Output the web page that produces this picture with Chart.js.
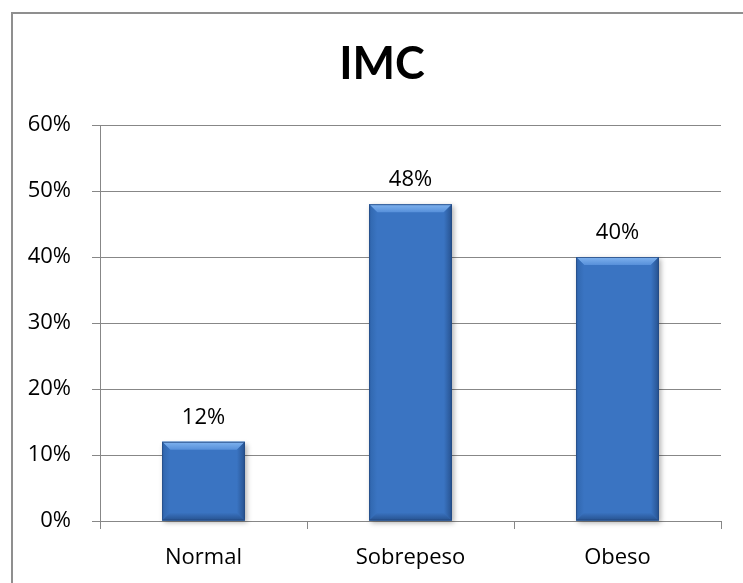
<!DOCTYPE html>
<html>
<head>
<meta charset="utf-8">
<script src="https://cdn.jsdelivr.net/npm/chart.js@4.4.1/dist/chart.umd.min.js"></script>
<style>
  html, body { margin: 0; padding: 0; background: #fff; overflow: hidden; }
  #frame { position: absolute; left: 11px; top: 12px; width: 780px; height: 620px;
           border-left: 2px solid #8f8f8f; border-top: 2px solid #8f8f8f; }
  #wrap { position: absolute; left: 0; top: 0; width: 743px; height: 583px; }
</style>
</head>
<body>
<div id="frame"></div>
<div id="wrap"><canvas id="imcChart"></canvas></div>
<script>
const categories = ['Normal', 'Sobrepeso', 'Obeso'];
const imcPct = [12, 48, 40];
const yMax = 60;
const yStep = 10;
const chartTitle = 'IMC';

const FONT = "'Open Sans', sans-serif";
const TITLE_FONT = "Lato, 'Open Sans', sans-serif";
const GRID = '#878787';
const FACE = '#3a74c2';
const EDGE = '#27528f';

function poly(ctx, pts, fill) {
  ctx.beginPath();
  ctx.moveTo(pts[0][0], pts[0][1]);
  for (let i = 1; i < pts.length; i++) ctx.lineTo(pts[i][0], pts[i][1]);
  ctx.closePath();
  ctx.fillStyle = fill;
  ctx.fill();
}

function grad(ctx, x0, y0, x1, y1, c0, c1) {
  const g = ctx.createLinearGradient(x0, y0, x1, y1);
  g.addColorStop(0, c0);
  g.addColorStop(1, c1);
  return g;
}

// title sits centred on the outer frame, not the plot
const frameTitle = {
  id: 'frameTitle',
  afterDraw(chart) {
    const ctx = chart.ctx;
    ctx.save();
    ctx.fillStyle = '#000';
    ctx.font = "bold 45px " + TITLE_FONT;
    ctx.textAlign = 'center';
    ctx.textBaseline = 'alphabetic';
    ctx.fillText(chartTitle, 382, 79);
    ctx.restore();
  }
};

const barShadow = {
  id: 'barShadow',
  beforeDatasetsDraw(chart) {
    const ctx = chart.ctx;
    chart.getDatasetMeta(0).data.forEach(bar => {
      const { x, y, base, width } = bar.getProps(['x', 'y', 'base', 'width'], true);
      ctx.save();
      ctx.shadowColor = 'rgba(0,0,0,0.3)';
      ctx.shadowBlur = 5;
      ctx.shadowOffsetX = 2;
      ctx.shadowOffsetY = 2;
      ctx.fillStyle = FACE;
      ctx.fillRect(x - width / 2, y, width, base - y);
      ctx.restore();
    });
  }
};

// bevelled edges plus the value above each bar
const bevel = {
  id: 'bevel',
  afterDatasetsDraw(chart) {
    const ctx = chart.ctx;
    chart.getDatasetMeta(0).data.forEach((bar, i) => {
      const { x, y, base, width } = bar.getProps(['x', 'y', 'base', 'width'], true);
      const l = x - width / 2, r = x + width / 2, t = y, b = base, d = 8;
      ctx.save();
      poly(ctx, [[l, t], [r, t], [r - d, t + d], [l + d, t + d]],
        grad(ctx, 0, t, 0, t + d, '#80b3ef', '#5790da'));
      poly(ctx, [[l, t], [l + d, t + d], [l + d, b - d], [l, b]],
        grad(ctx, l, 0, l + d, 0, '#3066ad', FACE));
      poly(ctx, [[r, t], [r, b], [r - d, b - d], [r - d, t + d]],
        grad(ctx, r - d, 0, r, 0, FACE, EDGE));
      poly(ctx, [[l, b], [l + d, b - d], [r - d, b - d], [r, b]],
        grad(ctx, 0, b - d, 0, b, FACE, EDGE));
      ctx.strokeStyle = 'rgba(35,72,128,0.8)';
      ctx.lineWidth = 1;
      ctx.strokeRect(l + 0.5, t + 0.5, width - 1, b - t - 1);
      ctx.fillStyle = '#000';
      ctx.font = "22px " + FONT;
      ctx.textAlign = 'center';
      ctx.textBaseline = 'alphabetic';
      ctx.fillText(imcPct[i] + '%', x, t - 18);
      ctx.restore();
    });
  }
};

new Chart(document.getElementById('imcChart'), {
  type: 'bar',
  data: {
    labels: categories,
    datasets: [{
      data: imcPct,
      backgroundColor: FACE,
      borderWidth: 0,
      categoryPercentage: 0.4,
      barPercentage: 1
    }]
  },
  options: {
    responsive: true,
    maintainAspectRatio: false,
    animation: false,
    layout: { padding: { left: 0, right: 22, top: 125, bottom: 0 } },
    plugins: {
      legend: { display: false },
      tooltip: { enabled: false },
      title: { display: false }
    },
    scales: {
      x: {
        grid: { display: true, offset: true, drawOnChartArea: false, drawTicks: true, tickLength: 8, color: GRID },
        border: { display: true, color: GRID, width: 1 },
        ticks: { color: '#000', font: { family: FONT, size: 22 }, padding: 16 },
        afterFit: (s) => { s.height = 62; }
      },
      y: {
        min: 0,
        max: yMax,
        grid: { color: GRID, tickLength: 8, drawTicks: true },
        border: { display: true, color: GRID, width: 1 },
        ticks: {
          stepSize: yStep,
          color: '#000',
          font: { family: FONT, size: 22 },
          padding: 21,
          callback: (v) => v + '%'
        },
        afterFit: (s) => { s.width = 100; }
      }
    }
  },
  plugins: [barShadow, bevel, frameTitle]
});
</script>
</body>
</html>
